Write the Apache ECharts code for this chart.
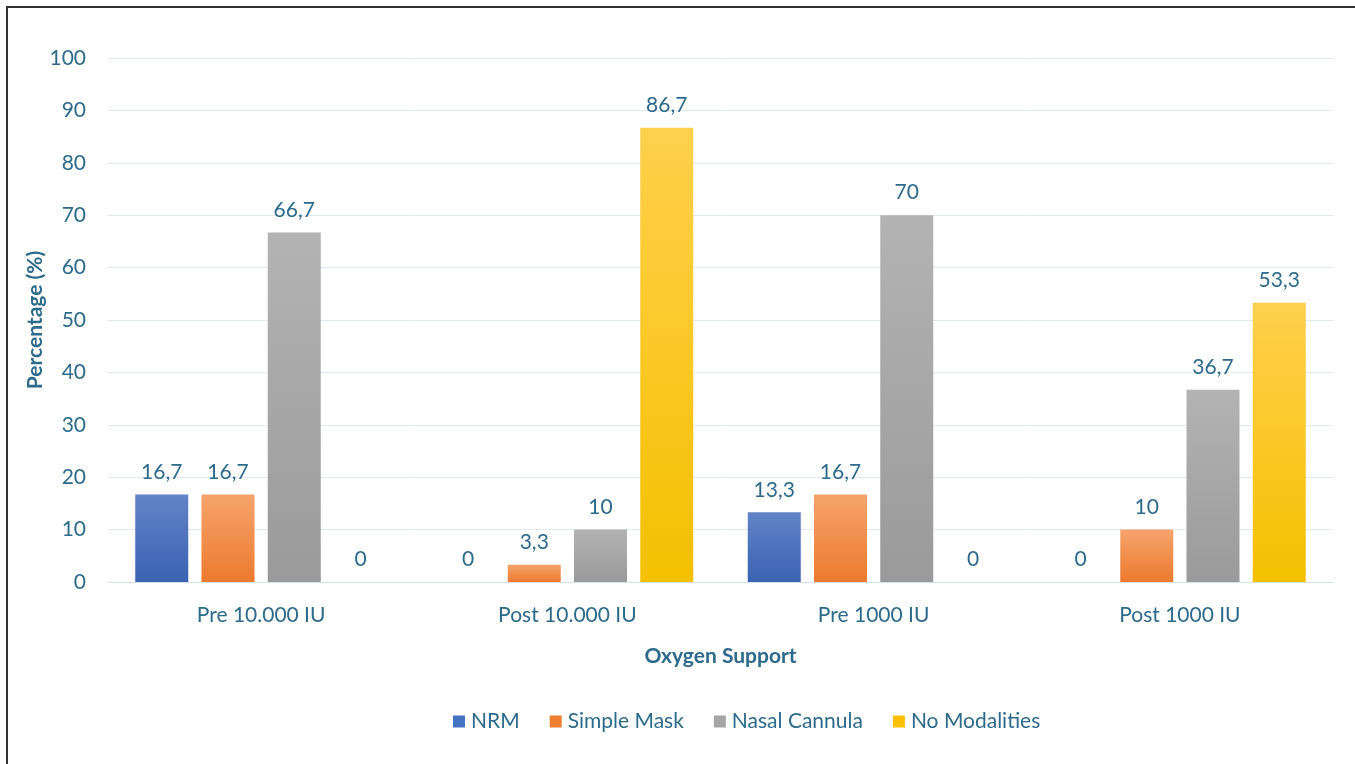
<!DOCTYPE html>
<html>
<head>
<meta charset="utf-8">
<script src="https://cdn.jsdelivr.net/npm/echarts@6/dist/echarts.min.js"></script>
<style>
html,body{margin:0;padding:0;background:#fff;}
#chart{width:1355px;height:764px;position:relative;}
#frame{position:absolute;left:6px;top:6px;width:1400px;height:800px;border-left:2px solid #333;border-top:2px solid #333;pointer-events:none;}
</style>
</head>
<body>
<div id="chart"></div>
<div id="frame"></div>
<script>
const categories = ['Pre 10.000 IU', 'Post 10.000 IU', 'Pre 1000 IU', 'Post 1000 IU'];
const nrm = [16.7, 0, 13.3, 0];
const simpleMask = [16.7, 3.3, 16.7, 10];
const nasalCannula = [66.7, 10, 70, 36.7];
const noModalities = [0, 86.7, 0, 53.3];
const yTicks = [0, 10, 20, 30, 40, 50, 60, 70, 80, 90, 100];

const txt = '#2d6a8b';
const font = 'Lato, "Open Sans", sans-serif';
const fs = 21;

function grad(top, bottom) {
  return new echarts.graphic.LinearGradient(0, 0, 0, 1, [
    {offset: 0, color: top}, {offset: 1, color: bottom}
  ]);
}
const seriesDefs = [
  {name: 'NRM', data: nrm, color: grad('#6283c8', '#3a63b2'), legend: '#4472c4'},
  {name: 'Simple Mask', data: simpleMask, color: grad('#f6a46c', '#ec7a2e'), legend: '#ed7d31'},
  {name: 'Nasal Cannula', data: nasalCannula, color: grad('#b3b3b3', '#9a9a9a'), legend: '#a5a5a5'},
  {name: 'No Modalities', data: noModalities, color: grad('#ffd04c', '#f4c000'), legend: '#ffc000'}
];

const chart = echarts.init(document.getElementById('chart'));
chart.setOption({
  backgroundColor: '#fff',
  animation: false,
  textStyle: {fontFamily: font},
  grid: {left: 108, right: 22, top: 58, bottom: 182, containLabel: false},
  legend: {
    top: 706, left: 448,
    itemWidth: 12, itemHeight: 12, itemGap: 30,
    icon: 'rect',
    textStyle: {color: txt, fontSize: fs, fontFamily: font, padding: [0, 0, 0, 1]},
    data: seriesDefs.map(s => ({name: s.name, itemStyle: {color: s.legend}}))
  },
  xAxis: {
    type: 'category',
    data: categories,
    name: 'Oxygen Support',
    nameLocation: 'middle',
    nameGap: 64,
    nameMoveOverlap: false,
    nameTextStyle: {color: txt, fontSize: fs, fontWeight: 'bold', fontFamily: font},
    axisLine: {lineStyle: {color: '#d5e0ea', width: 1}},
    axisTick: {show: false},
    axisLabel: {color: txt, fontSize: fs, margin: 23, fontFamily: font}
  },
  yAxis: {
    type: 'value',
    min: 0, max: 100, interval: 10,
    name: 'Percentage (%)',
    nameLocation: 'middle',
    nameGap: 62,
    nameMoveOverlap: false,
    nameTextStyle: {color: txt, fontSize: fs, fontWeight: 'bold', fontFamily: font},
    axisLine: {show: false},
    axisTick: {show: false},
    axisLabel: {color: txt, fontSize: fs, margin: 22, fontFamily: font,
      formatter: v => yTicks.includes(v) ? String(v) : ''},
    splitLine: {lineStyle: {color: '#e1eaf2', width: 1}}
  },
  series: seriesDefs.map(s => ({
    type: 'bar',
    name: s.name,
    data: s.data,
    barWidth: 53,
    barGap: '25%',
    itemStyle: {color: s.color},
    label: {
      show: true, position: 'top', distance: 12,
      color: txt, fontSize: fs, fontFamily: font,
      formatter: p => String(p.value).replace('.', ',')
    }
  }))
});
</script>
</body>
</html>
